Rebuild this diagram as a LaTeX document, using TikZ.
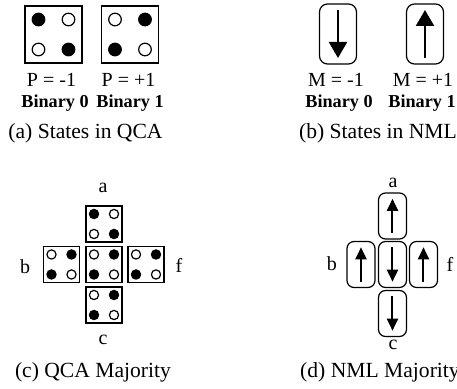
\documentclass[tikz,border=0pt]{standalone}
\usepackage{fontspec}
\setmainfont{Liberation Serif}
\usetikzlibrary{arrows.meta, positioning}

% dots of a QCA cell: #1 node, #2 binary value, #3 offset, #4 radius
\newcommand{\celldots}[4]{%
  \foreach \dx/\dy/\s in {-1/1/1, 1/1/0, -1/-1/0, 1/-1/1}{%
    \ifnum\numexpr\s+#2\relax=1 \def\dotcol{black}\else\def\dotcol{white}\fi
    \draw[fill=\dotcol, line width=0.6pt] ([shift={(\dx*#3,\dy*#3)}]#1.center) circle[radius=#4];
  }%
}

\begin{document}
\begin{tikzpicture}[x=0.5pt, y=-0.5pt]
    \tikzstyle{qca}=[draw=black, line width=0.8pt, inner sep=0pt, minimum size=28.5pt]
    \tikzstyle{small qca}=[qca, minimum size=18pt]
    \tikzstyle{magnet}=[draw=black, line width=0.6pt, rounded corners=4pt, inner sep=0pt, minimum width=18.5pt, minimum height=30pt]
    \tikzstyle{small magnet}=[magnet, rounded corners=3.5pt, minimum width=14pt, minimum height=23pt]
    \tikzstyle{spin}=[line width=1.1pt, -{Triangle[width=9pt, length=8pt]}, shorten >=3.3pt, shorten <=3.3pt]
    \tikzstyle{small spin}=[line width=1pt, -{Triangle[width=5.5pt, length=6pt]}, shorten >=3.2pt, shorten <=3.2pt]
    \tikzstyle{lbl}=[inner sep=0pt, font=\fontsize{10}{12}\selectfont]
    \tikzstyle{bin}=[inner sep=0pt, font=\fontsize{9.1}{12}\selectfont\bfseries]
    \tikzstyle{caption text}=[inner sep=0pt, font=\fontsize{10.8}{13}\selectfont]

    \clip (0,0) rectangle (457,389);

    % (a) states in QCA
    \node[qca] (Q-1) at (53.5,34.5) {};
    \node[qca] (Q-2) at (130,34.5) {};
    \celldots{Q-1}{0}{7.5pt}{3.15pt}
    \celldots{Q-2}{1}{7.5pt}{3.15pt}
    \node[lbl] (PQ-1) at (51.5,80) {P = -1};
    \node[lbl] (PQ-2) at (128.5,80) {P = +1};
    \node[bin] (BQ-1) at (55,103) {Binary 0};
    \node[bin] (BQ-2) at (130,103) {Binary 1};
    \node[caption text] (CA) at (85.5,133) {(a) States in QCA};

    % (b) states in NML
    \node[magnet] (M-1) at (338,34) {};
    \node[magnet] (M-2) at (425,34) {};
    \draw[spin] (M-1.north) -- (M-1.south);
    \draw[spin] (M-2.south) -- (M-2.north);
    \node[lbl] (PM-1) at (336,80) {M = -1};
    \node[lbl] (PM-2) at (423,80) {M = +1};
    \node[bin] (BM-1) at (339,103) {Binary 0};
    \node[bin] (BM-2) at (422,103) {Binary 1};
    \node[caption text] (CB) at (378,133) {(b) States in NML};

    % (c) QCA majority
    \node[small qca] (QM-a) at (104,224) {};
    \node[small qca] (QM-b) at (61.5,264.5) {};
    \node[small qca] (QM-x) at (104,264.5) {};
    \node[small qca] (QM-f) at (146,264.5) {};
    \node[small qca] (QM-c) at (104,305) {};
    \celldots{QM-a}{0}{5pt}{2.3pt}
    \foreach \n in {b,x,f,c}{
        \celldots{QM-\n}{1}{5pt}{2.3pt}
    }
    \node[lbl] (LQ-a) at (103,188) {a};
    \node[lbl] (LQ-b) at (25,267) {b};
    \node[lbl] (LQ-f) at (179,265) {f};
    \node[lbl] (LQ-c) at (103,340) {c};
    \node[caption text] (CC) at (93,372) {(c) QCA Majority};

    % (d) NML majority
    \node[small magnet] (NM-a) at (392.5,216) {};
    \node[small magnet] (NM-b) at (361,264.5) {};
    \node[small magnet] (NM-x) at (392.5,264.5) {};
    \node[small magnet] (NM-f) at (423.5,264.5) {};
    \node[small magnet] (NM-c) at (392.5,313.5) {};
    \draw[small spin] (NM-a.south) -- (NM-a.north);
    \draw[small spin] (NM-b.south) -- (NM-b.north);
    \draw[small spin] (NM-x.north) -- (NM-x.south);
    \draw[small spin] (NM-f.south) -- (NM-f.north);
    \draw[small spin] (NM-c.north) -- (NM-c.south);
    \node[lbl] (LN-a) at (393,183) {a};
    \node[lbl] (LN-b) at (332,264) {b};
    \node[lbl] (LN-f) at (450,264) {f};
    \node[lbl] (LN-c) at (393,345) {c};
    \node[caption text] (CD) at (380,372) {(d) NML Majority};
\end{tikzpicture}
\end{document}
